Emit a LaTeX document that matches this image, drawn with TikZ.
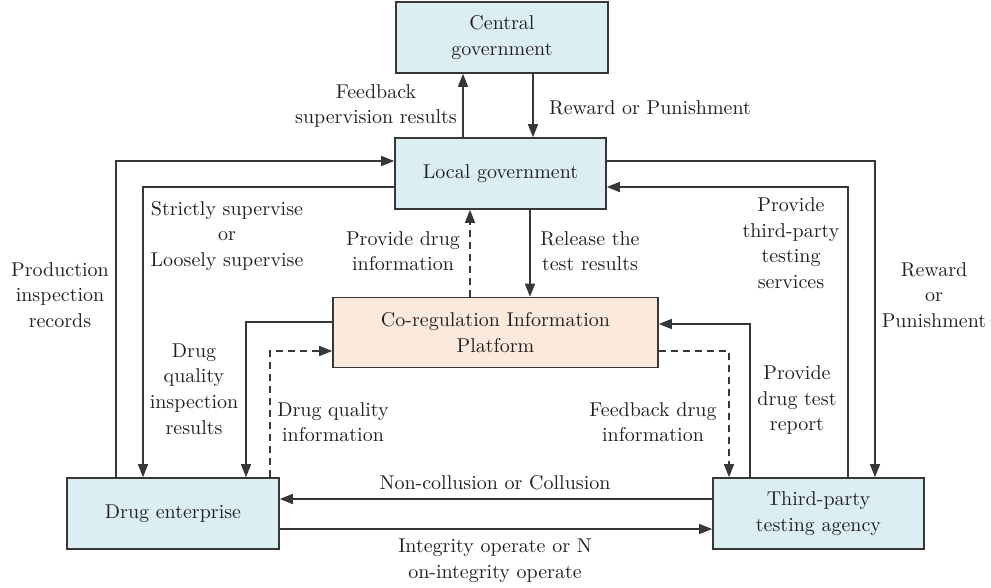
\documentclass[tikz,border=0pt]{standalone}
\usepackage{xcolor}
\usepackage{tikz}
\usetikzlibrary{arrows.meta, calc}

\definecolor{govblue}{RGB}{219,238,244}
\definecolor{platpeach}{RGB}{251,233,220}
\definecolor{linegray}{RGB}{55,55,55}
\definecolor{inkblack}{RGB}{35,31,32}

\begin{document}
\begin{tikzpicture}[x=0.5pt, y=-0.5pt,
    font=\fontsize{10}{12.8}\selectfont, text=inkblack,
    box/.style={draw=linegray, line width=0.8pt, rectangle, fill=govblue, align=center, minimum height=35.5pt},
    arr/.style={draw=linegray, line width=0.75pt, -{Triangle[length=6.5pt, width=5pt]}},
    dashline/.style={dash pattern=on 3.5pt off 2.5pt},
    lbl/.style={align=center}]
    \useasboundingbox (0,0) rectangle (991,588);

    \node[box, minimum width=106pt] (central) at (502,37.5) {Central\\government};
    \node[box, minimum width=105.5pt] (local) at (500.5,173.5) {Local government};
    \node[box, fill=platpeach, minimum width=162.5pt, minimum height=35pt] (coreg) at (495.5,332.5) {Co-regulation Information\\Platform};
    \node[box, minimum width=106pt] (drug) at (173,513.5) {Drug enterprise};
    \node[box, minimum width=105.5pt] (third) at (818.5,513.5) {Third-party\\testing agency};

    % central <-> local
    \draw[arr] ($(local.north)+(-37.5,0)$) -- ($(central.south)+(-39,0)$);
    \draw[arr] ($(central.south)+(31,0)$) -- ($(local.north)+(32.5,0)$);

    % outer loops
    \draw[arr] ($(drug.north)+(-57,0)$) |- ($(local.west)+(0,-12.5)$);
    \draw[arr] ($(local.west)+(0,13.5)$) -| ($(drug.north)+(-30,0)$);
    \draw[arr] ($(local.east)+(0,-12.5)$) -| ($(third.north)+(56.5,0)$);
    \draw[arr] ($(third.north)+(29.5,0)$) |- ($(local.east)+(0,13.5)$);

    % platform links
    \draw[arr, dashline] ($(coreg.north)+(-25.5,0)$) -- ($(local.south)+(-30.5,0)$);
    \draw[arr] ($(local.south)+(29.5,0)$) -- ($(coreg.north)+(34.5,0)$);
    \draw[arr] ($(coreg.west)+(0,-10.5)$) -| ($(drug.north)+(73,0)$);
    \draw[arr, dashline] ($(drug.north)+(97,0)$) |- ($(coreg.west)+(0,18.5)$);
    \draw[arr] ($(third.north)+(-68.5,0)$) |- ($(coreg.east)+(0,-8.5)$);
    \draw[arr, dashline] ($(coreg.east)+(0,18.5)$) -| ($(third.north)+(-89.5,0)$);

    % enterprise <-> agency
    \draw[arr] ($(third.west)+(0,-14.5)$) -- ($(drug.east)+(0,-14.5)$);
    \draw[arr] ($(drug.east)+(0,15.5)$) -- ($(third.west)+(0,15.5)$);

    % labels
    \node[lbl] (feedsup) at (376,106) {Feedback\\supervision results};
    \node[lbl] (rewtop) at (650,108) {Reward or Punishment};
    \node[lbl] (strict) at (227,236) {Strictly supervise\\or\\Loosely supervise};
    \node[lbl] (prodrec) at (60,295) {Production\\inspection\\records};
    \node[lbl] (provdrug) at (403,251) {Provide drug\\information};
    \node[lbl] (release) at (590,251) {Release the\\test results};
    \node[lbl] (provserv) at (791,243) {Provide\\third-party\\testing\\services};
    \node[lbl] (rewright) at (934,295) {Reward\\or\\Punishment};
    \node[lbl] (qualres) at (194,389) {Drug\\quality\\inspection\\results};
    \node[lbl] (qualinfo) at (333,422) {Drug quality\\information};
    \node[lbl] (feeddrug) at (653,422) {Feedback drug\\information};
    \node[lbl] (testrep) at (797,400) {Provide\\drug test\\report};
    \node[lbl] (collude) at (495,483) {Non-collusion or Collusion};
    \node[lbl] (integ) at (495,561) {Integrity operate or N\\on-integrity operate};
\end{tikzpicture}
\end{document}
